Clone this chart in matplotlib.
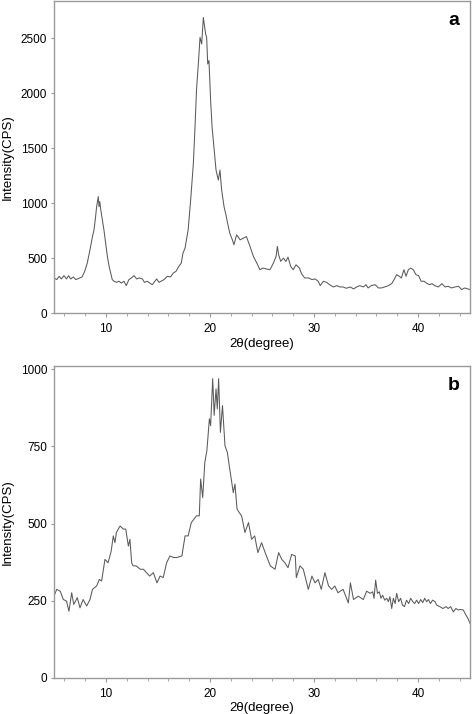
import matplotlib
matplotlib.use("Agg")
import matplotlib.pyplot as plt
from matplotlib.ticker import MultipleLocator

plt.rcParams['font.family'] = ['Liberation Sans', 'DejaVu Sans']

# Panel a: 2theta (degree) and intensity (CPS)
theta_a = [5.0, 5.26, 5.5, 5.7, 5.96, 6.2, 6.4, 6.6, 6.86, 7.1, 7.4, 7.7, 7.95, 8.2, 8.46,
           8.7, 8.85, 9.0, 9.1, 9.2, 9.26, 9.33, 9.4, 9.5, 9.65, 9.8, 9.97, 10.13, 10.3,
           10.45, 10.6, 10.77, 11.0, 11.25, 11.47, 11.73, 11.95, 12.2, 12.44, 12.7, 12.95,
           13.2, 13.5, 13.7, 13.97, 14.2, 14.45, 14.7, 14.87, 15.1, 15.3, 15.58, 15.9, 16.2,
           16.47, 16.73, 17.0, 17.24, 17.4, 17.6, 17.9, 18.14, 18.4, 18.56, 18.7, 18.9,
           19.04, 19.2, 19.36, 19.45, 19.58, 19.68, 19.78, 19.9, 20.06, 20.2, 20.4, 20.58,
           20.8, 20.96, 21.12, 21.35, 21.5, 21.76, 21.9, 22.15, 22.3, 22.56, 22.9, 23.2,
           23.5, 23.85, 24.17, 24.5, 24.8, 25.1, 25.45, 25.77, 26.1, 26.35, 26.48, 26.6,
           26.8, 27.05, 27.3, 27.5, 27.76, 28.0, 28.27, 28.6, 28.8, 29.1, 29.5, 29.8, 30.1,
           30.4, 30.6, 30.9, 31.2, 31.5, 31.86, 32.2, 32.5, 32.8, 33.1, 33.5, 33.8, 34.1,
           34.4, 34.75, 35.0, 35.2, 35.5, 35.87, 36.2, 36.5, 36.8, 37.15, 37.47, 37.7, 37.95,
           38.2, 38.4, 38.65, 38.85, 39.07, 39.3, 39.55, 39.8, 40.06, 40.3, 40.58, 40.8,
           41.1, 41.35, 41.6, 41.96, 42.3, 42.6, 42.9, 43.2, 43.56, 43.9, 44.2, 44.5, 44.8,
           45.0]
cps_a = [319, 304, 334, 310, 340, 310, 340, 310, 328, 304, 316, 328, 379, 455, 576,
         696, 757, 878, 968, 1029, 1060, 968, 1014, 938, 847, 757, 636, 515, 424,
         364, 304, 289, 279, 289, 273, 289, 249, 304, 319, 340, 310,
         319, 310, 279, 289, 273, 258, 289, 310, 279, 289, 304, 334, 328,
         364, 379, 424, 455, 545, 590, 757, 1029, 1361, 1693, 2026, 2298,
         2509, 2449, 2690, 2630, 2539, 2509, 2267, 2298, 1935, 1693, 1482, 1301,
         1210, 1301, 1119, 968, 908, 787, 727, 666, 621, 711, 666, 681,
         696, 606, 515, 455, 394, 409, 400, 394, 455, 515, 606, 530,
         470, 500, 470, 509, 424, 394, 439, 409, 358, 319, 319, 304, 310,
         289, 249, 289, 279, 258, 237, 249, 237, 237, 225, 237, 219, 237,
         249, 237, 258, 228, 249, 258, 228, 228, 237, 249, 267, 304, 349,
         334, 319, 394, 334, 394, 409, 394, 349, 340, 289, 289, 273,
         258, 267, 249, 237, 267, 237, 243, 228, 237, 243, 213, 228, 219,
         213]

# Panel b
theta_b = [5.0, 5.26, 5.6, 5.9, 6.2, 6.44, 6.7, 6.9, 7.24, 7.5, 7.8, 8.14, 8.46, 8.7,
           9.1, 9.36, 9.58, 9.9, 10.2, 10.5, 10.7, 10.86, 11.0, 11.35, 11.67, 11.9, 12.15,
           12.3, 12.47, 12.6, 12.9, 13.3, 13.6, 13.9, 14.2, 14.55, 14.9, 15.2, 15.5, 15.83,
           16.15, 16.5, 16.8, 17.3, 17.6, 17.9, 18.2, 18.7, 18.97, 19.1, 19.3, 19.5, 19.7,
           19.94, 20.06, 20.26, 20.4, 20.58, 20.7, 20.83, 21.0, 21.2, 21.44, 21.67, 21.9,
           22.24, 22.4, 22.6, 22.8, 23.04, 23.36, 23.7, 24.0, 24.3, 24.6, 24.96, 25.3, 25.8,
           26.25, 26.6, 26.9, 27.2, 27.5, 27.85, 28.2, 28.3, 28.65, 28.97, 29.45, 29.8, 30.1,
           30.4, 30.7, 31.05, 31.4, 31.7, 32.0, 32.3, 32.8, 33.3, 33.5, 33.8, 34.25, 34.74,
           35.06, 35.4, 35.64, 35.77, 35.93, 36.1, 36.28, 36.44, 36.6, 36.8, 37.0, 37.15,
           37.3, 37.47, 37.63, 37.8, 37.95, 38.14, 38.33, 38.5, 38.7, 38.9, 39.1, 39.3,
           39.5, 39.68, 39.87, 40.06, 40.26, 40.45, 40.64, 40.83, 41.0, 41.2, 41.4, 41.64,
           41.8, 42.1, 42.4, 42.7, 42.9, 43.14, 43.4, 43.65, 43.88, 44.1, 44.36, 44.6,
           44.8, 45.0]
cps_b = [265, 287, 281, 254, 249, 216, 276, 238, 260, 227, 254, 233, 254, 287,
         298, 319, 314, 384, 373, 411, 460, 438, 471, 492, 482, 482, 427,
         449, 373, 363, 363, 352, 352, 341, 330, 341, 308, 330, 325, 373,
         395, 390, 390, 395, 460, 460, 503, 525, 525, 644, 584, 698, 736,
         839, 817, 969, 850, 936, 871, 969, 795, 882, 752, 730, 676,
         600, 628, 547, 536, 525, 471, 503, 449, 460, 406, 438, 406, 363,
         352, 406, 384, 373, 357, 400, 395, 325, 363, 352, 287, 330, 308,
         319, 287, 341, 298, 287, 298, 276, 287, 243, 308, 254, 265, 254,
         281, 274, 279, 258, 317, 274, 279, 258, 268, 252, 258, 247,
         263, 225, 258, 241, 274, 247, 258, 236, 231, 252, 241, 258,
         247, 241, 252, 241, 254, 244, 258, 247, 254, 241, 252, 247,
         236, 231, 225, 231, 225, 231, 214, 225, 220, 222, 220, 204,
         193, 177]

panels = [
    dict(x=theta_a, y=cps_a, ylim=(0, 2840), yticks=[0, 500, 1000, 1500, 2000, 2500], label="a",
         rect=[54 / 472, 1 - 313 / 714, 416 / 472, 312 / 714]),
    dict(x=theta_b, y=cps_b, ylim=(0, 1010), yticks=[0, 250, 500, 750, 1000], label="b",
         rect=[54 / 472, 1 - 678 / 714, 416 / 472, 312 / 714]),
]

fig = plt.figure(figsize=(4.72, 7.14), dpi=100)
spine_col = "#9a9a9a"
for p in panels:
    ax = fig.add_axes(p["rect"])
    ax.plot(p["x"], p["y"], color="#5a5a5a", lw=0.75)
    ax.set_xlim(5, 45)
    ax.set_ylim(*p["ylim"])
    ax.set_yticks(p["yticks"])
    ax.set_xticks([10, 20, 30, 40])
    ax.xaxis.set_minor_locator(MultipleLocator(2))
    for s in ax.spines.values():
        s.set_color(spine_col)
        s.set_linewidth(1.0)
    ax.tick_params(axis="x", which="major", length=3, color=spine_col, labelsize=8.5, pad=4)
    ax.tick_params(axis="x", which="minor", length=2, color=spine_col)
    ax.tick_params(axis="y", which="major", length=2, color=spine_col, labelsize=8.5, pad=3)
    ax.set_ylabel("Intensity(CPS)", fontsize=9.5, labelpad=5)
    ax.set_xlabel("2θ(degree)", fontsize=9.5, labelpad=2)
    ax.text(0.975, 0.965, p["label"], transform=ax.transAxes, ha="right", va="top",
            fontsize=14, fontweight="bold")

fig.savefig("out.png", dpi=100)
